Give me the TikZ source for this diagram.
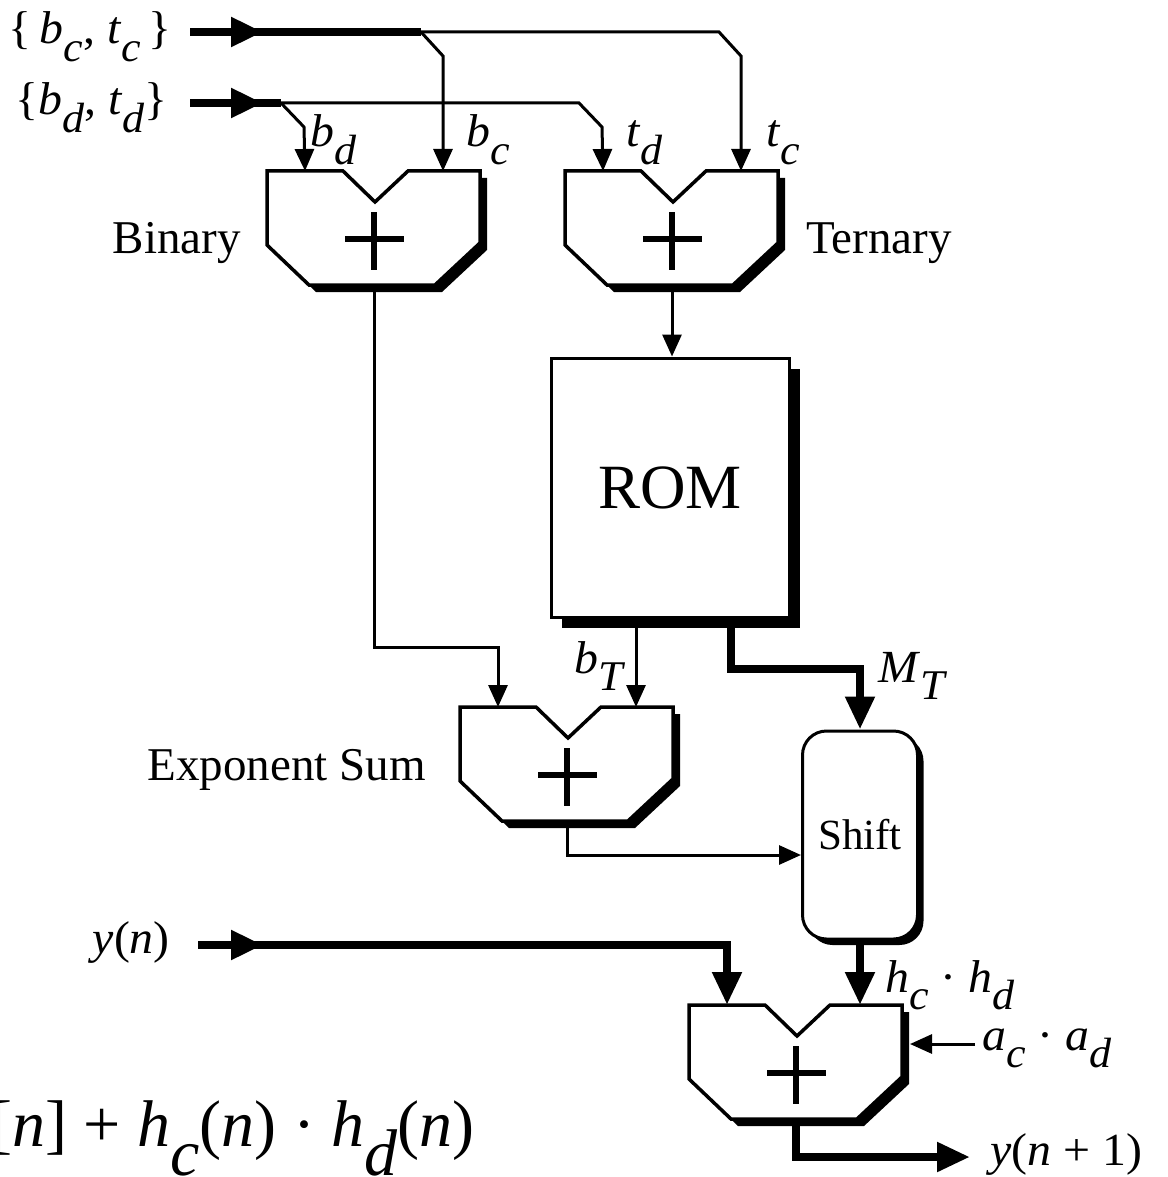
\documentclass[tikz,border=0pt]{standalone}
\usepackage{fontspec}
\setmainfont{Liberation Serif}
\usepackage{graphicx}
\usetikzlibrary{arrows.meta,shadows,decorations.markings,calc}

% italic variable and lowered subscript
\newcommand\mv[1]{\textit{#1}}
\newcommand\lo[1]{\raisebox{-0.38em}{\scalebox{0.92}{\itshape #1}}}
\newcommand\M[1]{\scalebox{1.04}[1]{#1}}

% outline of an adder block (top-left corner at the origin)
\newcommand\adderpath{(0,0) -- (76,0) -- (108,31) -- (141,0) -- (213,0) -- (213,72) -- (168,114) -- (42,114) -- (0,74) -- cycle}

\tikzset{
  wire/.style={line width=3pt},
  arr/.style={wire, -{Triangle[length=22pt,width=19pt]}},
  bus/.style={line width=8pt},
  busarr/.style={bus, -{Triangle[length=33pt,width=28pt]}},
  midhead/.style={postaction={decorate}, decoration={markings,
      mark=at position #1 with {\arrow{Triangle[length=32pt,width=28pt]}}}},
  lab/.style={font=\fontsize{46}{46}\selectfont, inner sep=0pt},
  word/.style={font=\fontsize{47}{47}\selectfont, inner sep=0pt},
  pics/adder/.style={code={
    \fill[black, shift={(7,7)}] \adderpath;
    \draw[line width=3.5pt, fill=white] \adderpath;
    \draw[line width=6.5pt] (107,41) -- (107,99) (78,68) -- (137,68);
    \coordinate (-a) at (38,0);
    \coordinate (-b) at (176,0);
    \coordinate (-o) at (107,114);
    \coordinate (-r) at (221,39);
  }},
}

\begin{document}
\begin{tikzpicture}[x=1pt, y=-1pt, line join=miter]
\useasboundingbox (0,0) rectangle (1167,1177);

% blocks
\pic (bin) at (267,171) {adder};
\pic (tern) at (565,171) {adder};
\pic (exps) at (460,707) {adder};
\pic (acc) at (689,1005) {adder};

\node[draw, line width=3pt, fill=white, minimum width=238pt, minimum height=259pt,
      inner sep=0pt, font=\fontsize{63}{63}\selectfont,
      drop shadow={shadow xshift=11pt, shadow yshift=-11pt, fill=black, opacity=1}]
      (rom) at (670,487.5) {ROM};
\node[draw, line width=3pt, fill=white, rounded corners=24pt, minimum width=115pt,
      minimum height=208pt, inner sep=0pt, font=\fontsize{43}{43}\selectfont,
      drop shadow={shadow xshift=6pt, shadow yshift=-6pt, fill=black, opacity=1}]
      (shift) at (860,835) {Shift};

% block names
\node[word, anchor=base east] (binl) at (241,253) {Binary};
\node[word, anchor=base west] (ternl) at (806,253) {Ternary};
\node[word, anchor=base east] (expl) at (426,780) {Exponent Sum};

% inputs
\node[lab, anchor=base east] (inc) at (172,44) {\M{\{\,\mv{b}\lo{c}, \mv{t}\lo{c}\,\}}};
\node[lab, anchor=base east] (ind) at (168,115) {\M{\{\mv{b}\lo{d}, \mv{t}\lo{d}\}}};
\node[lab, anchor=base east] (yn) at (170,953) {\M{\mv{y}(\mv{n})}};

\coordinate (j1) at (421,32);
\coordinate (c1) at (719,32);
\coordinate (j2) at (281,103);
\coordinate (c2) at (579,103);

\draw[bus, midhead=73pt] (190,32) -- (j1);
\draw[bus, midhead=73pt] (190,103) -- (j2);
\draw[arr] (j1) -- ++(22,24) -- (bin-b);
\draw[arr] (j1) -- (c1) -- ++(22,24) -- (tern-b);
\draw[arr] (j2) -- ++(23,24) -- (bin-a);
\draw[arr] (j2) -- (c2) -- ++(23,24) -- (tern-a);

% operand labels
\node[lab, anchor=base west] at (310,147) {\M{\mv{b}\lo{d}}};
\node[lab, anchor=base west] at (466,147) {\M{\mv{b}\lo{c}}};
\node[lab, anchor=base west] at (626,147) {\M{\mv{t}\lo{d}}};
\node[lab, anchor=base west] at (766,147) {\M{\mv{t}\lo{c}}};

% internal connections
\draw[arr] (tern-o) -- (tern-o |- rom.north);
\draw[arr] (bin-o) |- ([yshift=60pt]exps-a) -- (exps-a);
\draw[arr] (exps-b |- rom.south) -- (exps-b);
\node[lab, anchor=base west] at (574,673) {\M{\mv{b}\lo{T}}};
\coordinate (m1) at (731,617);
\coordinate (m2) at (860,669);
\draw[busarr] (m1) |- (m2) -- (shift.north);
\node[lab, anchor=base west] at (878,682) {\M{\mv{M}\lo{T}}};
\draw[arr] (exps-o) |- ([yshift=-20pt]shift.west);

% accumulator
\draw[bus, midhead=65pt, -{Triangle[length=33pt,width=28pt]}] (198,945) -| (acc-a);
\draw[busarr] (shift.south) -- (shift.south |- acc-b);
\node[lab, anchor=base west] at (885,992) {\M{\mv{h}\lo{c} · \mv{h}\lo{d}}};
\node[lab, anchor=base west] (aa) at (982,1050) {\M{\mv{a}\lo{c} · \mv{a}\lo{d}}};
\draw[arr] ([xshift=-7pt]aa.west |- acc-r) -- (acc-r);
\coordinate (e4) at (970,1157);
\draw[busarr] (acc-o) |- (e4);
\node[lab, anchor=base west] at (990,1165) {\M{\mv{y}(\mv{n} + 1)}};

% recurrence
\node[inner sep=0pt, anchor=base west, font=\fontsize{66}{66}\selectfont] (rec) at (-10,1146)
  {[\mv{n}] + \mv{h}\raisebox{-0.45em}{\itshape c}(\mv{n}) · \mv{h}\raisebox{-0.45em}{\itshape d}(\mv{n})};
\end{tikzpicture}
\end{document}
